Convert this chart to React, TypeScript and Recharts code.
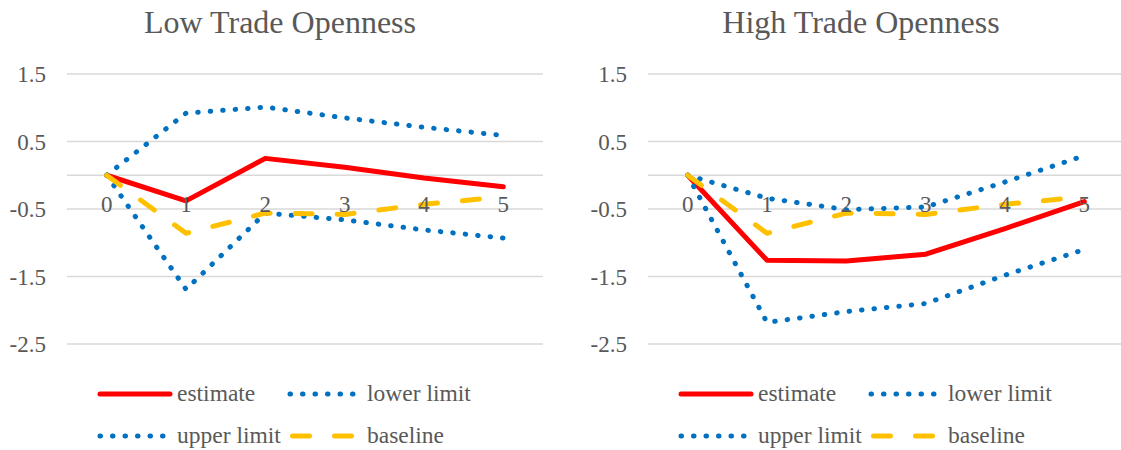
import React from 'react';
import { LineChart, Line, XAxis, YAxis, CartesianGrid, ReferenceLine, ReferenceDot, Legend } from 'recharts';

// horizon (years after the shock)
const periods = [0, 1, 2, 3, 4, 5];
const yTicks = [-2.5, -1.5, -0.5, 0.5, 1.5];

const baseline = [0, -0.86, -0.56, -0.58, -0.43, -0.32];

const lowEstimate = [0, -0.38, 0.25, 0.12, -0.04, -0.17];
const lowLower = [0, -1.69, -0.56, -0.66, -0.81, -0.93];
const lowUpper = [0, 0.92, 1.01, 0.85, 0.71, 0.59];

const highEstimate = [0, -1.26, -1.27, -1.17, -0.79, -0.39];
const highLower = [0, -2.18, -2.02, -1.9, -1.48, -1.1];
const highUpper = [0, -0.34, -0.51, -0.47, -0.1, 0.29];

const TEXT = '#595959';
const GRID = '#d9d9d9';
const FONT = 'Liberation Serif, Times New Roman, serif';
const serifStyle = { fontFamily: FONT };

const series = [
  { key: 'estimate', name: 'estimate', color: '#ff0000', dash: undefined },
  { key: 'lower', name: 'lower limit', color: '#0070c0', dash: '0.5 12' },
  { key: 'upper', name: 'upper limit', color: '#0070c0', dash: '0.5 12' },
  { key: 'baseline', name: 'baseline', color: '#ffc000', dash: '17 25' },
];

// legend slots: column x, row centre y, sample length
const legendSlots = [
  { x: 100, y: 24, len: 70 },
  { x: 290, y: 24, len: 64 },
  { x: 100, y: 66, len: 64 },
  { x: 292.5, y: 66, len: 59 },
];

const renderLegend = () => (
  <svg width={560} height={80} style={{ display: 'block' }}>
    {series.map((s, i) => {
      const slot = legendSlots[i];
      const textX = i % 2 === 0 ? 177 : 367;
      return (
        <g key={s.key}>
          <line
            x1={slot.x}
            x2={slot.x + slot.len}
            y1={slot.y}
            y2={slot.y}
            stroke={s.color}
            strokeWidth={5}
            strokeLinecap="round"
            strokeDasharray={s.dash}
          />
          <text x={textX} y={slot.y + 7} fill={TEXT} fontSize={23.5} fontFamily={FONT} style={serifStyle}>
            {s.name}
          </text>
        </g>
      );
    })}
  </svg>
);

interface PanelProps {
  title: string;
  estimate: number[];
  lower: number[];
  upper: number[];
  left: number;
}

const Panel: React.FC<PanelProps> = ({ title, estimate, lower, upper, left }) => {
  const data = periods.map((p, i) => ({
    period: p,
    estimate: estimate[i],
    lower: lower[i],
    upper: upper[i],
    baseline: baseline[i],
  }));

  return (
    <div style={{ position: 'absolute', left, top: 0, width: 560, height: 450, fontFamily: FONT }}>
      <div
        style={{
          position: 'absolute',
          top: 6,
          left: 0,
          width: 560,
          textAlign: 'center',
          fontSize: 32,
          lineHeight: '32px',
          color: TEXT,
          fontFamily: FONT,
        }}
      >
        {title}
      </div>
      <LineChart
        width={560}
        height={450}
        data={data}
        margin={{ top: 74, right: 17, bottom: 106, left: 0 }}
        style={serifStyle}
      >
        <CartesianGrid horizontal vertical={false} stroke={GRID} strokeWidth={1.5} />
        <XAxis dataKey="period" type="number" domain={[-0.5, 5.5]} hide />
        <YAxis
          type="number"
          domain={[-2.5, 1.5]}
          ticks={yTicks}
          interval={0}
          width={67}
          axisLine={false}
          tickLine={false}
          tickSize={6}
          tickMargin={15}
          tick={{ fill: TEXT, fontSize: 23, fontFamily: FONT, style: serifStyle }}
        />
        <ReferenceLine y={0} stroke={GRID} strokeWidth={1.5} />
        {periods.map((p) => (
          <ReferenceDot
            key={p}
            x={p}
            y={0}
            r={0}
            fill="none"
            stroke="none"
            label={{
              value: String(p),
              position: 'bottom',
              offset: 20,
              fill: TEXT,
              fontSize: 23,
              fontFamily: FONT,
              style: serifStyle,
            }}
          />
        ))}
        {series.map((s) => (
          <Line
            key={s.key}
            dataKey={s.key}
            name={s.name}
            type="linear"
            stroke={s.color}
            strokeWidth={5}
            strokeDasharray={s.dash}
            strokeLinecap="round"
            strokeLinejoin="round"
            dot={false}
            activeDot={false}
            isAnimationActive={false}
          />
        ))}
        <Legend
          layout="horizontal"
          verticalAlign="middle"
          align="center"
          width={560}
          wrapperStyle={{ top: 370, left: 0, width: 560, height: 80 }}
          content={renderLegend}
        />
      </LineChart>
    </div>
  );
};

const App: React.FC = () => {
  return (
    <div
      style={{
        position: 'absolute',
        left: 0,
        top: 0,
        width: 1121,
        height: 450,
        overflow: 'hidden',
        background: '#ffffff',
      }}
    >
      <Panel title="Low Trade Openness" estimate={lowEstimate} lower={lowLower} upper={lowUpper} left={0} />
      <Panel title="High Trade Openness" estimate={highEstimate} lower={highLower} upper={highUpper} left={581} />
    </div>
  );
};

export default App;
